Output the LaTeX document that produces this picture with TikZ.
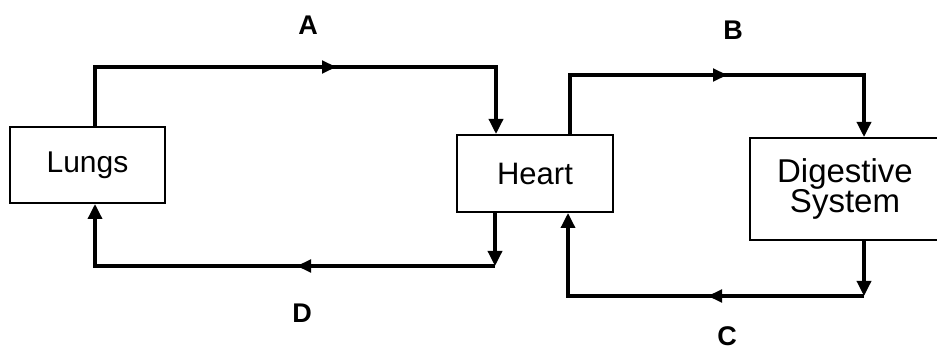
\documentclass[tikz,border=0pt]{standalone}
\usepackage{fontspec}
\setmainfont{Liberation Sans}
\usetikzlibrary{arrows.meta,calc}

\begin{document}
\begin{tikzpicture}[
		x=1pt,
		y=-1pt,
		line cap=butt,
		line join=miter,
		>=Triangle,
		box/.style={draw, line width=2pt, inner sep=0pt, align=center},
		flow/.style={line width=3.4pt, -{Triangle[length=15pt,width=14pt]}},
		midtip/.style={line width=2pt, -{Triangle[length=14pt,width=13pt]}},
		lbl/.style={font=\fontsize{27}{29}\selectfont\bfseries}
		]
		
		\useasboundingbox (0,0) rectangle (937,352);
		
		%------------------------------------------------------------------
		% Organs
		%------------------------------------------------------------------
		\node[box, minimum width=155, minimum height=76,
		font=\fontsize{30}{32}\selectfont] (lungs) at (87.5,165) {Lungs};
		\node[box, minimum width=156, minimum height=77,
		font=\fontsize{31}{32}\selectfont] (heart) at (535,173.5) {Heart};
		\node[box, minimum width=190, minimum height=102,
		font=\fontsize{33}{30}\selectfont] (digest) at (845,189) {Digestive\\System};
		
		%------------------------------------------------------------------
		% Corners of the routes
		%------------------------------------------------------------------
		\coordinate (a1) at ( 95, 67);
		\coordinate (a2) at (496, 67);
		\coordinate (aM) at (336, 67);
		
		\coordinate (b1) at (570, 75);
		\coordinate (b2) at (864, 75);
		\coordinate (bM) at (727, 75);
		
		\coordinate (c1) at (864,296);
		\coordinate (c2) at (568,296);
		\coordinate (cM) at (708,296);
		
		\coordinate (d1) at (495,266);
		\coordinate (d2) at ( 95,266);
		\coordinate (dM) at (297,266);
		
		%------------------------------------------------------------------
		% A: lungs to heart
		%------------------------------------------------------------------
		\draw[flow] (lungs.north -| a1) -- (a1) -- (a2) -- (heart.north -| a2);
		\draw[midtip] (a1) -- (aM);
		
		%------------------------------------------------------------------
		% B: heart to digestive system
		%------------------------------------------------------------------
		\draw[flow] (heart.north -| b1) -- (b1) -- (b2) -- (digest.north -| b2);
		\draw[midtip] (b1) -- (bM);
		
		%------------------------------------------------------------------
		% C: digestive system back to heart
		%------------------------------------------------------------------
		\draw[flow] (digest.south -| c1) -- (c1);
		\draw[flow] (c1) -- (c2) -- (heart.south -| c2);
		\draw[midtip] (c1) -- (cM);
		
		%------------------------------------------------------------------
		% D: heart back to lungs
		%------------------------------------------------------------------
		\draw[flow] (heart.south -| d1) -- (d1);
		\draw[flow] (d1) -- (d2) -- (lungs.south -| d2);
		\draw[midtip] (d1) -- (dM);
		
		%------------------------------------------------------------------
		% Labels
		%------------------------------------------------------------------
		\node[lbl] (labA) at (308, 25) {A};
		\node[lbl] (labB) at (733, 30) {B};
		\node[lbl] (labC) at (727,336) {C};
		\node[lbl] (labD) at (302,313) {D};
		
	\end{tikzpicture}
\end{document}
